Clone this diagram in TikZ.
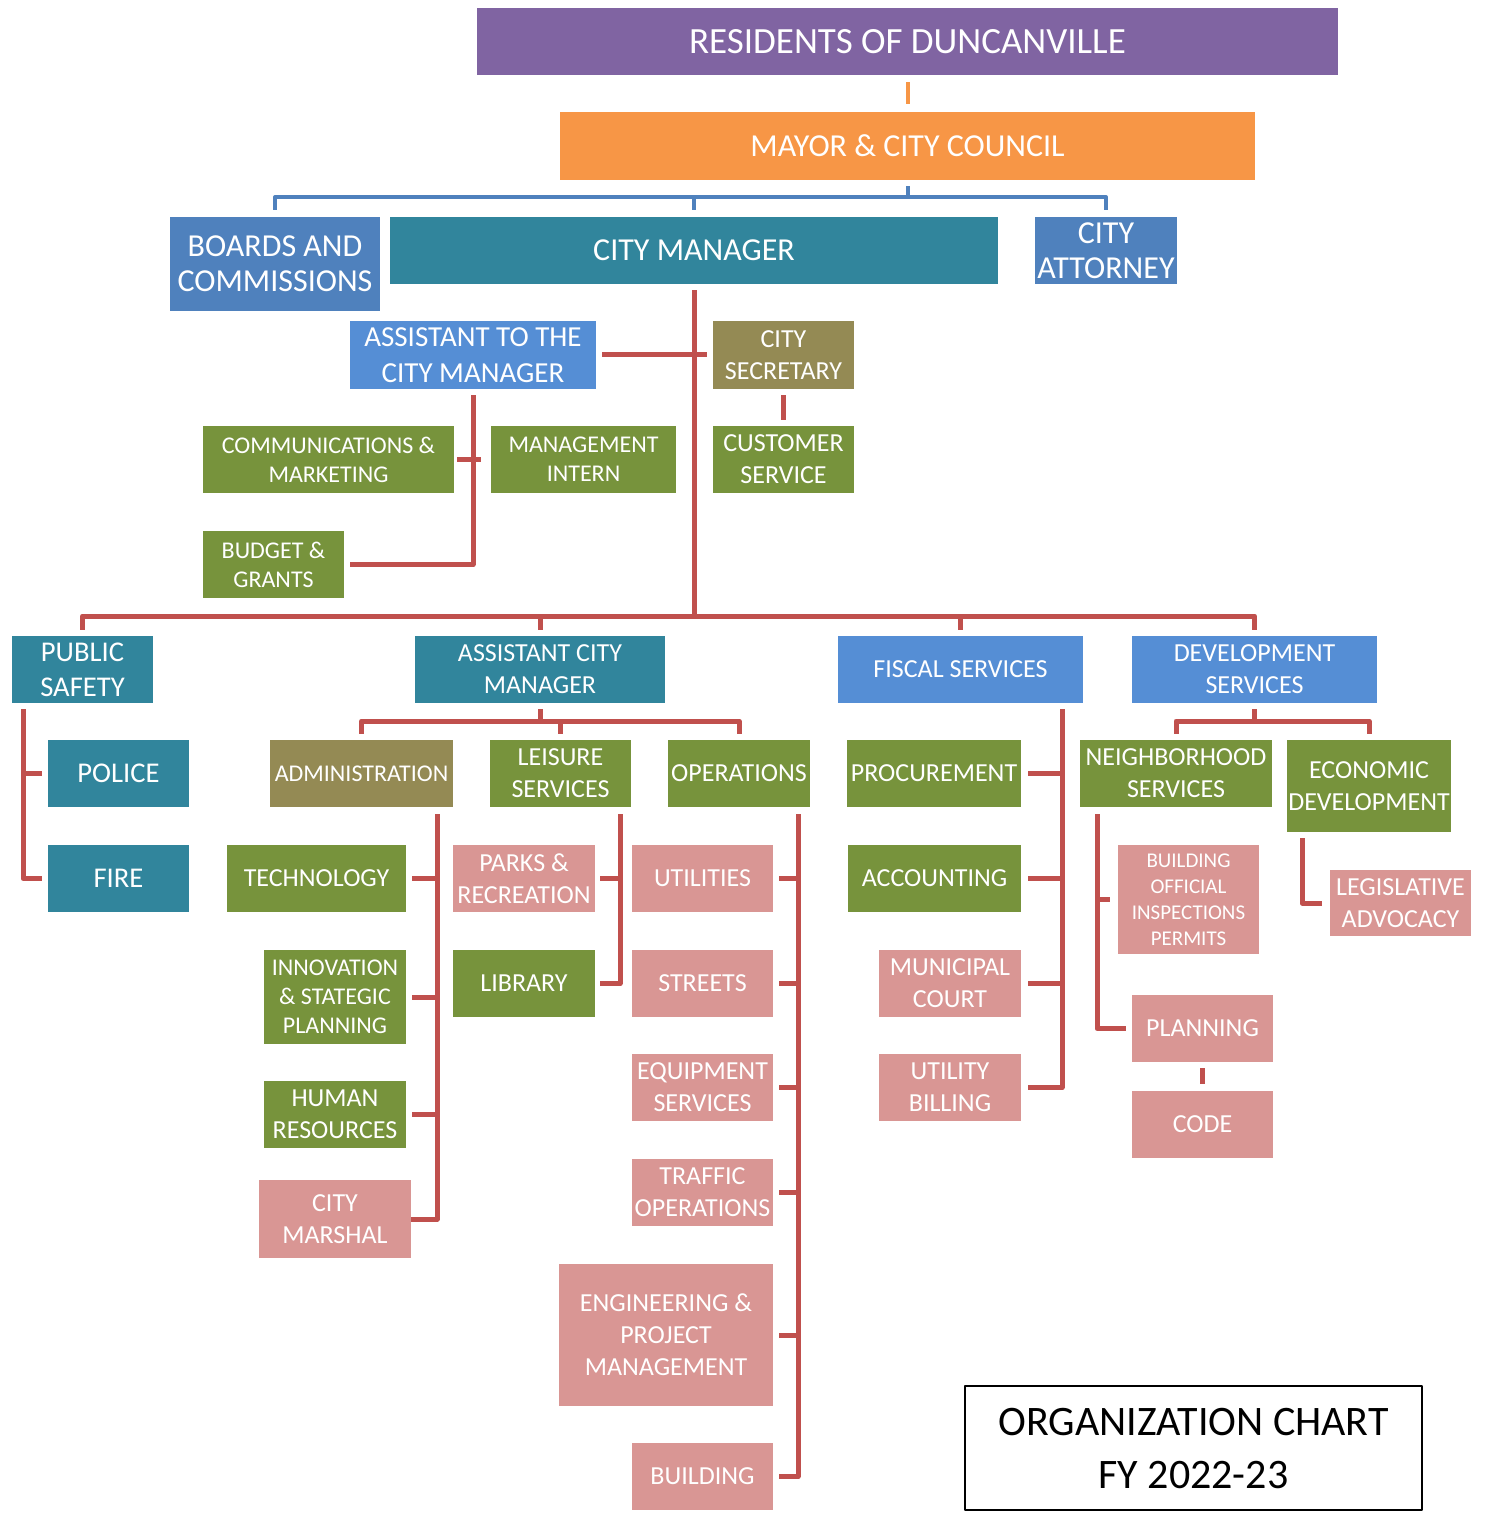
\documentclass[tikz,border=0pt]{standalone}
\usepackage{fontspec}
\setmainfont{Carlito}
\definecolor{resid}{HTML}{8064A2}
\definecolor{council}{HTML}{F79646}
\definecolor{steel}{HTML}{4F81BD}
\definecolor{sky}{HTML}{558ED5}
\definecolor{tealbox}{HTML}{31859C}
\definecolor{khaki}{HTML}{948A54}
\definecolor{leaf}{HTML}{77933C}
\definecolor{rose}{HTML}{D99694}
\definecolor{wire}{HTML}{C0504D}
\begin{document}
\begin{tikzpicture}[x=0.5pt,y=-0.5pt,line join=round,
	box/.style={inner sep=0pt, align=center, text=white, fill=#1},
	dims/.style 2 args={minimum width=#1*0.5pt, minimum height=#2*0.5pt},
	resfont/.style={font=\fontsize{18.5}{22}\selectfont},
	topfont/.style={font=\fontsize{16}{17.5}\selectfont},
	asstfont/.style={font=\fontsize{14.5}{18}\selectfont},
	psfont/.style={font=\fontsize{14.3}{17.5}\selectfont},
	midfont/.style={font=\fontsize{13}{16}\selectfont},
	smallfont/.style={font=\fontsize{12}{14.5}\selectfont},
	tinyfont/.style={font=\fontsize{10.5}{13}\selectfont},
	chartfont/.style={font=\fontsize{21}{26.5}\selectfont},
	redline/.style={draw=wire, line width=2.5pt},
	blueline/.style={draw=steel, line width=2pt},
	orangeline/.style={draw=council, line width=2pt}]
	\useasboundingbox (0,0) rectangle (1486,1513);
	\node (res)      at ( 907.5,  41.5) [box=resid,   dims={861}{67},  resfont]   {RESIDENTS OF DUNCANVILLE};
	\node (mayor)    at ( 907.5, 146)   [box=council, dims={695}{68},  topfont]   {MAYOR \& CITY COUNCIL};
	\node (boards)   at ( 275,   264)   [box=steel,   dims={210}{94},  topfont]   {BOARDS AND\\COMMISSIONS};
	\node (cm)       at ( 694,   250.5) [box=tealbox, dims={608}{67},  topfont]   {CITY MANAGER};
	\node (atty)     at (1106,   250.5) [box=steel,   dims={142}{67},  topfont]   {CITY\\ATTORNEY};
	\node (asst)     at ( 473,   355)   [box=sky,     dims={246}{68},  asstfont]  {ASSISTANT TO THE\\CITY MANAGER};
	\node (sec)      at ( 783.5, 355)   [box=khaki,   dims={141}{68},  midfont]   {CITY\\SECRETARY};
	\node (comm)     at ( 328.5, 459.5) [box=leaf,    dims={251}{67},  smallfont] {COMMUNICATIONS \&\\MARKETING};
	\node (intern)   at ( 583.5, 459.5) [box=leaf,    dims={185}{67},  smallfont] {MANAGEMENT\\INTERN};
	\node (cust)     at ( 783.5, 459.5) [box=leaf,    dims={141}{67},  midfont]   {CUSTOMER\\SERVICE};
	\node (budget)   at ( 273.5, 564.5) [box=leaf,    dims={141}{67},  smallfont] {BUDGET \&\\GRANTS};
	\node (ps)       at (  82.5, 669.5) [box=tealbox, dims={141}{67},  psfont]    {PUBLIC\\SAFETY};
	\node (acm)      at ( 540,   669.5) [box=tealbox, dims={250}{67},  midfont]   {ASSISTANT CITY\\MANAGER};
	\node (fiscal)   at ( 960.5, 669.5) [box=sky,     dims={245}{67},  midfont]   {FISCAL SERVICES};
	\node (dev)      at (1254.5, 669.5) [box=sky,     dims={245}{67},  midfont]   {DEVELOPMENT\\SERVICES};
	\node (police)   at ( 118.5, 773.5) [box=tealbox, dims={141}{67},  psfont]    {POLICE};
	\node (fire)     at ( 118.5, 878.5) [box=tealbox, dims={141}{67},  psfont]    {FIRE};
	\node (admin)    at ( 361.5, 773.5) [box=khaki,   dims={183}{67},  smallfont] {ADMINISTRATION};
	\node (leisure)  at ( 560.5, 773.5) [box=leaf,    dims={141}{67},  midfont]   {LEISURE\\SERVICES};
	\node (ops)      at ( 739,   773.5) [box=leaf,    dims={142}{67},  midfont]   {OPERATIONS};
	\node (tech)     at ( 316.5, 878.5) [box=leaf,    dims={179}{67},  midfont]   {TECHNOLOGY};
	\node (innov)    at ( 335,   997)   [box=leaf,    dims={142}{94},  smallfont] {INNOVATION\\\& STATEGIC\\PLANNING};
	\node (hr)       at ( 335,  1114.5) [box=leaf,    dims={142}{67},  midfont]   {HUMAN\\RESOURCES};
	\node (marshal)  at ( 335,  1219)   [box=rose,    dims={152}{78},  midfont]   {CITY\\MARSHAL};
	\node (parks)    at ( 524,   878.5) [box=rose,    dims={142}{67},  midfont]   {PARKS \&\\RECREATION};
	\node (library)  at ( 524,   983.5) [box=leaf,    dims={142}{67},  midfont]   {LIBRARY};
	\node (util)     at ( 702.5, 878.5) [box=rose,    dims={141}{67},  midfont]   {UTILITIES};
	\node (streets)  at ( 702.5, 983.5) [box=rose,    dims={141}{67},  midfont]   {STREETS};
	\node (equip)    at ( 702.5,1087.5) [box=rose,    dims={141}{67},  midfont]   {EQUIPMENT\\SERVICES};
	\node (traffic)  at ( 702.5,1192.5) [box=rose,    dims={141}{67},  midfont]   {TRAFFIC\\OPERATIONS};
	\node (eng)      at ( 666,  1335)   [box=rose,    dims={214}{142}, midfont]   {ENGINEERING \&\\PROJECT\\MANAGEMENT};
	\node (building) at ( 702.5,1476.5) [box=rose,    dims={141}{67},  midfont]   {BUILDING};
	\node (proc)     at ( 934,   773.5) [box=leaf,    dims={174}{67},  midfont]   {PROCUREMENT};
	\node (acct)     at ( 934.5, 878.5) [box=leaf,    dims={173}{67},  midfont]   {ACCOUNTING};
	\node (court)    at ( 950,   983.5) [box=rose,    dims={142}{67},  midfont]   {MUNICIPAL\\COURT};
	\node (billing)  at ( 950,  1087.5) [box=rose,    dims={142}{67},  midfont]   {UTILITY\\BILLING};
	\node (nbhd)     at (1176,   773.5) [box=leaf,    dims={192}{67},  midfont]   {NEIGHBORHOOD\\SERVICES};
	\node (econ)     at (1369,   786)   [box=leaf,    dims={164}{92},  midfont]   {ECONOMIC\\DEVELOPMENT};
	\node (bo)       at (1188.5, 899.5) [box=rose,    dims={141}{109}, tinyfont]  {BUILDING\\OFFICIAL\\INSPECTIONS\\PERMITS};
	\node (planning) at (1202.5,1028.5) [box=rose,    dims={141}{67},  midfont]   {PLANNING};
	\node (code)     at (1202.5,1124.5) [box=rose,    dims={141}{67},  midfont]   {CODE};
	\node (legis)    at (1400.5, 903)   [box=rose,    dims={141}{66},  midfont]   {LEGISLATIVE\\ADVOCACY};
	\node (chart)    at (1193.5,1448)   [dims={457}{124}, draw=black, line width=1pt, inner sep=0pt, align=center, chartfont] {ORGANIZATION CHART\\FY 2022-23};
	\coordinate (bluebus) at (0,197);
	\coordinate (mainbus) at (0,616);
	\coordinate (lowbus)  at (0,721);
	\coordinate (psx)  at (23,0);
	\coordinate (admx) at (437,0);
	\coordinate (leix) at (620,0);
	\coordinate (opsx) at (798,0);
	\coordinate (fisx) at (1062,0);
	\coordinate (nbhx) at (1097,0);
	\coordinate (ecox) at (1302,0);
	\draw[orangeline, shorten <=3.5pt, shorten >=4pt] (res) -- (mayor);
	\draw[blueline, shorten <=3pt] (mayor) -- (mayor |- bluebus);
	\draw[blueline, shorten <=3.5pt, shorten >=3.5pt] (boards) -- (boards |- bluebus) -- (atty |- bluebus) -- (atty);
	\draw[blueline, shorten >=3.5pt] (cm |- bluebus) -- (cm);
	\draw[redline, shorten <=3pt] (cm) -- (cm |- mainbus);
	\draw[redline, shorten <=3pt, shorten >=3pt] (asst) -- (sec);
	\draw[redline, shorten <=3pt, shorten >=3pt] (sec) -- (cust);
	\draw[redline, shorten <=3pt, shorten >=3pt] (asst) |- (budget);
	\draw[redline, shorten <=1.5pt, shorten >=5pt] (comm) -- (intern);
	\draw[redline, shorten <=3pt, shorten >=3pt] (ps) -- (ps |- mainbus) -- (dev |- mainbus) -- (dev);
	\draw[redline, shorten >=3pt] (acm |- mainbus) -- (acm);
	\draw[redline, shorten >=3pt] (fiscal |- mainbus) -- (fiscal);
	\draw[redline, shorten <=3pt, shorten >=3pt] (ps.south -| psx) |- (fire);
	\draw[redline, shorten >=3pt] (police -| psx) -- (police);
	\draw[redline, shorten <=3pt] (acm) -- (acm |- lowbus);
	\draw[redline, shorten <=3pt, shorten >=3pt] (admin) -- (admin |- lowbus) -- (ops |- lowbus) -- (ops);
	\draw[redline, shorten >=3pt] (leisure |- lowbus) -- (leisure);
	\draw[redline, shorten <=3.5pt] (admin.south -| admx) |- (marshal);
	\draw[redline, shorten >=3pt] (tech -| admx) -- (tech);
	\draw[redline, shorten >=3pt] (innov -| admx) -- (innov);
	\draw[redline, shorten >=3pt] (hr -| admx) -- (hr);
	\draw[redline, shorten <=3.5pt, shorten >=2.5pt] (leisure.south -| leix) |- (library);
	\draw[redline, shorten >=2.5pt] (parks -| leix) -- (parks);
	\draw[redline, shorten <=3.5pt, shorten >=3pt] (ops.south -| opsx) |- (building);
	\draw[redline, shorten >=3pt] (util -| opsx) -- (util);
	\draw[redline, shorten >=3pt] (streets -| opsx) -- (streets);
	\draw[redline, shorten >=3pt] (equip -| opsx) -- (equip);
	\draw[redline, shorten >=3pt] (traffic -| opsx) -- (traffic);
	\draw[redline, shorten >=3pt] (eng -| opsx) -- (eng);
	\draw[redline, shorten <=3pt, shorten >=3.5pt] (fiscal.south -| fisx) |- (billing);
	\draw[redline, shorten >=3.5pt] (proc -| fisx) -- (proc);
	\draw[redline, shorten >=3.5pt] (acct -| fisx) -- (acct);
	\draw[redline, shorten >=3.5pt] (court -| fisx) -- (court);
	\draw[redline, shorten <=3pt] (dev) -- (dev |- lowbus);
	\draw[redline, shorten <=3pt, shorten >=3pt] (nbhd) -- (nbhd |- lowbus) -- (econ |- lowbus) -- (econ);
	\draw[redline, shorten <=3.5pt, shorten >=3pt] (nbhd.south -| nbhx) |- (planning);
	\draw[redline, shorten >=4pt] (bo -| nbhx) -- (bo);
	\draw[redline, shorten <=3pt, shorten >=3.5pt] (planning) -- (code);
	\draw[redline, shorten <=3pt, shorten >=4pt] (econ.south -| ecox) |- (legis);
\end{tikzpicture}
\end{document}
